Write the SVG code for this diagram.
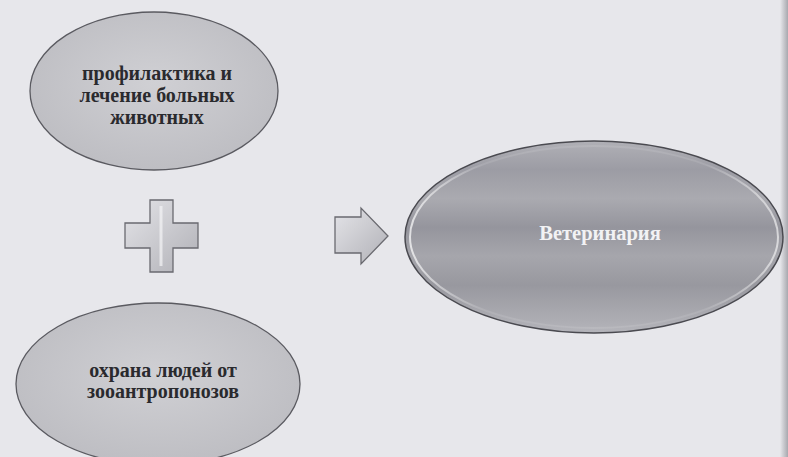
<svg xmlns="http://www.w3.org/2000/svg" width="788" height="457" viewBox="0 0 788 457">
<style>
.lbl{font-family:"Liberation Serif","Times New Roman",serif;font-weight:bold;text-anchor:middle;}
.dark{fill:#2a2a2e;font-size:20px;}
.light{fill:#f2f2f4;font-size:20.5px;}
.soft{stroke:#5a5a60;stroke-width:1.3;}
</style>
<defs>
<radialGradient id="gL" cx="50%" cy="45%" r="60%">
<stop offset="0" stop-color="#d0d0d4"/>
<stop offset="1" stop-color="#bcbcc1"/>
</radialGradient>
<linearGradient id="gR" x1="0" y1="0" x2="0" y2="1">
<stop offset="0" stop-color="#b0b0b6"/>
<stop offset="0.15" stop-color="#9c9ca4"/>
<stop offset="0.3" stop-color="#aaaab0"/>
<stop offset="0.45" stop-color="#95959d"/>
<stop offset="0.6" stop-color="#a6a6ac"/>
<stop offset="0.75" stop-color="#98989f"/>
<stop offset="0.9" stop-color="#a9a9af"/>
<stop offset="1" stop-color="#b4b4ba"/>
</linearGradient>
<linearGradient id="gS" x1="0" y1="0" x2="1" y2="1">
<stop offset="0" stop-color="#e4e4e8"/>
<stop offset="1" stop-color="#b0b0b6"/>
</linearGradient>
<linearGradient id="gRing" x1="0" y1="0" x2="1" y2="0">
<stop offset="0" stop-color="#ffffff" stop-opacity="0.7"/>
<stop offset="0.2" stop-color="#ffffff" stop-opacity="0.1"/>
<stop offset="0.8" stop-color="#ffffff" stop-opacity="0.1"/>
<stop offset="1" stop-color="#ffffff" stop-opacity="0.6"/>
</linearGradient>
<linearGradient id="gEdge" x1="0" y1="0" x2="1" y2="0">
<stop offset="0" stop-color="#e7e7eb"/>
<stop offset="1" stop-color="#a8a8ae"/>
</linearGradient>
</defs>
<rect x="0" y="0" width="788" height="457" fill="#e7e7eb"/>
<rect x="780" y="0" width="8" height="457" fill="url(#gEdge)"/>

<g id="node-prophylaxis">
<ellipse cx="154" cy="91" rx="124" ry="79" fill="url(#gL)" class="soft"/>
<text class="lbl dark" x="157" y="80">профилактика и</text>
<text class="lbl dark" x="157" y="102">лечение больных</text>
<text class="lbl dark" x="157" y="124">животных</text>
</g>

<g id="node-protection">
<ellipse cx="158" cy="384" rx="142" ry="81" fill="url(#gL)" class="soft"/>
<text class="lbl dark" x="163" y="377">охрана людей от</text>
<text class="lbl dark" x="163" y="398">зооантропонозов</text>
</g>

<g id="node-vet">
<ellipse cx="594" cy="237" rx="189" ry="96" fill="url(#gR)" stroke="#4a4a50" stroke-width="1.5"/>
<ellipse cx="594" cy="237" rx="184" ry="91" fill="none" stroke="url(#gRing)" stroke-width="2"/>
<text class="lbl light" x="600" y="240">Ветеринария</text>
</g>

<g id="connectors">
<path id="plus" d="M150,200 H173 V223 H198 V248 H173 V272 H150 V248 H125 V223 H150 Z" fill="url(#gS)" stroke="#6a6a70" stroke-width="1.3"/>
<path d="M161,206 V266" stroke="#f4f4f6" stroke-width="3" opacity="0.7"/>
<path id="arrow" d="M335,217 H361 V208 L388,236 L361,264 V253 H335 Z" fill="url(#gS)" stroke="#6a6a70" stroke-width="1.3"/>
</g>
</svg>
